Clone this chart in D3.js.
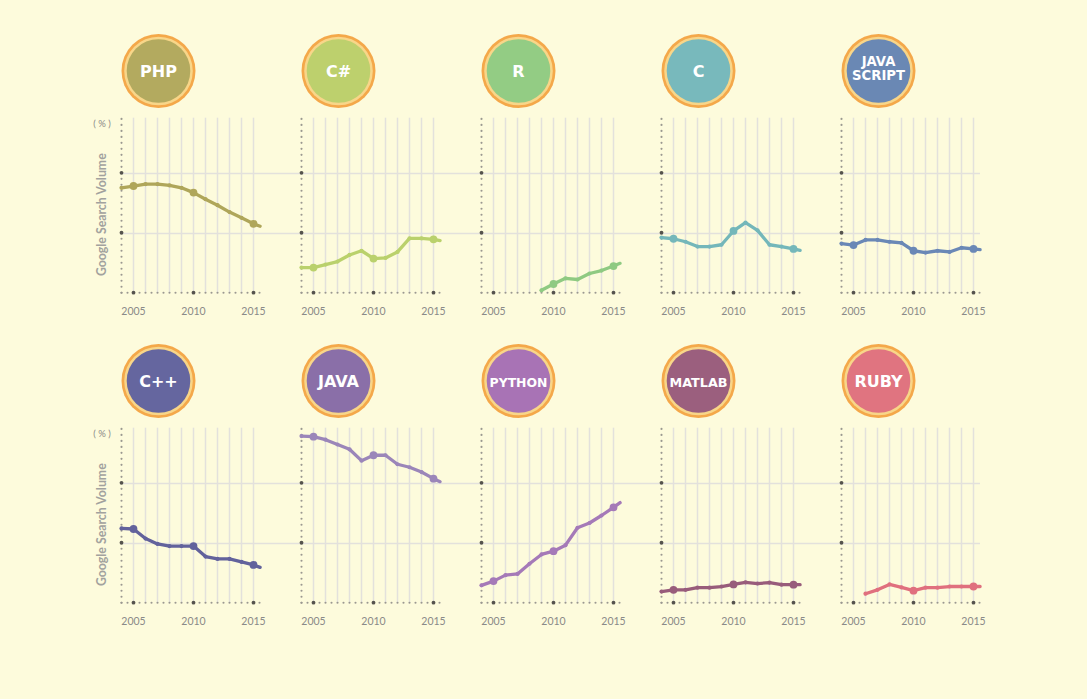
<!DOCTYPE html>
<html>
<head>
<meta charset="utf-8">
<script src="https://cdn.jsdelivr.net/npm/d3@7"></script>
<style>
  html, body { margin: 0; padding: 0; background: #fdfbdc; }
  svg { display: block; }
</style>
</head>
<body>
<svg id="chart" width="1087" height="699"></svg>
<script>
const languages = ["PHP", "C#", "R", "C", "JAVA SCRIPT", "C++", "JAVA", "PYTHON", "MATLAB", "RUBY"];
const colors = ["#b3aa5f", "#bdd06d", "#93cc84", "#78b9bc", "#6a88b4", "#65669f", "#8a6fa8", "#a873b5", "#9b5f7e", "#e07480"];
const lineColors = ["#afa65a", "#bad16c", "#8fca82", "#74b7ba", "#6a88b6", "#62629c", "#9b86b9", "#a57ab8", "#985c7b", "#e0707e"];
const years = [2004, 2005, 2006, 2007, 2008, 2009, 2010, 2011, 2012, 2013, 2014, 2015, 2015.55];
const yearTicks = [2005, 2010, 2015];
const valueTicks = [10, 20];

const phpValues    = [17.5, 17.8, 18.1, 18.1, 17.9, 17.5, 16.7, 15.6, 14.6, 13.45, 12.5, 11.5, 11.1];
const csharpValues = [4.2, 4.2, 4.7, 5.2, 6.3, 7.0, 5.7, 5.8, 6.8, 9.05, 9.05, 8.9, 8.7];
const rValues      = [null, null, null, null, null, 0.4, 1.45, 2.4, 2.2, 3.2, 3.7, 4.45, 4.9];
const cValues      = [9.2, 9.0, 8.5, 7.7, 7.7, 8.0, 10.3, 11.7, 10.4, 8.0, 7.7, 7.3, 7.05];
const jsValues     = [8.2, 7.95, 8.8, 8.8, 8.5, 8.3, 7.0, 6.7, 7.0, 6.8, 7.5, 7.3, 7.2];
const cppValues    = [12.4, 12.3, 10.7, 9.8, 9.45, 9.45, 9.45, 7.7, 7.3, 7.3, 6.8, 6.3, 5.9];
const javaValues   = [27.8, 27.7, 27.2, 26.4, 25.6, 23.7, 24.6, 24.6, 23.1, 22.6, 21.8, 20.7, 20.2];
const pythonValues = [2.9, 3.6, 4.6, 4.8, 6.5, 8.05, 8.6, 9.6, 12.5, 13.3, 14.55, 15.9, 16.7];
const matlabValues = [1.85, 2.15, 2.15, 2.5, 2.5, 2.7, 3.05, 3.4, 3.2, 3.35, 3.0, 3.0, 3.0];
const rubyValues   = [null, null, 1.5, 2.15, 3.05, 2.55, 2.0, 2.5, 2.5, 2.7, 2.7, 2.7, 2.7];

const seriesValues = [phpValues, csharpValues, rValues, cValues, jsValues,
                      cppValues, javaValues, pythonValues, matlabValues, rubyValues];

const svg = d3.select("#chart");
const FONT = "Lato, 'Open Sans', sans-serif";
const GRID = "#e3e1dc";

function panelGeom(i) {
  const col = i % 5, row = Math.floor(i / 5);
  const axisX = 121.5 + col * 180;
  const baseY = 292.7 + row * 310;
  const x = d3.scaleLinear().domain([2004, 2015.6]).range([axisX, axisX + 139.2]);
  const y = d3.scaleLinear().domain([0, 29.2]).range([baseY, baseY - 175]);
  return { col, row, axisX, baseY, x, y };
}

// horizontal gridlines across each row
[0, 1].forEach(row => {
  const g = panelGeom(row * 5);
  svg.append("g").selectAll("line").data(valueTicks).join("line")
    .attr("x1", g.axisX).attr("x2", 980)
    .attr("y1", d => Math.round(g.y(d)) + 0.5).attr("y2", d => Math.round(g.y(d)) + 0.5)
    .attr("stroke", GRID).attr("stroke-width", 1.5);
  // axis labels
  svg.append("text").attr("x", 102).attr("y", g.y(29.2) + 9.5)
    .attr("text-anchor", "middle").attr("font-family", FONT).attr("font-size", 9.5)
    .attr("fill", "#8a8a88").text("( % )");
  svg.append("text")
    .attr("transform", `translate(105.8, ${g.baseY - 78}) rotate(-90)`)
    .attr("text-anchor", "middle").attr("font-family", FONT).attr("font-weight", 700)
    .attr("font-size", 12.3).attr("fill", "#a2a29e").text("Google Search Volume");
});

seriesValues.forEach((vals, i) => {
  const g = panelGeom(i);
  const p = svg.append("g");

  // vertical year gridlines
  p.append("g").selectAll("line").data(d3.range(2005, 2016)).join("line")
    .attr("x1", d => g.x(d)).attr("x2", d => g.x(d))
    .attr("y1", g.y(29.2)).attr("y2", g.baseY)
    .attr("stroke", GRID).attr("stroke-width", 1.5);

  // dotted y axis
  p.append("g").selectAll("circle").data(d3.range(0, 30)).join("circle")
    .attr("cx", g.axisX).attr("cy", d => g.y(d)).attr("r", 1.05)
    .attr("fill", "#9a9890");
  // dotted baseline
  p.append("g").selectAll("circle").data(d3.range(2004, 2015.75, 0.5)).join("circle")
    .attr("cx", d => g.x(d)).attr("cy", g.baseY).attr("r", 1.05)
    .attr("fill", "#9a9890");
  // dark tick dots
  p.append("g").selectAll("circle").data(valueTicks).join("circle")
    .attr("cx", g.axisX).attr("cy", d => g.y(d)).attr("r", 1.9).attr("fill", "#55534d");
  p.append("g").selectAll("circle").data(yearTicks).join("circle")
    .attr("cx", d => g.x(d)).attr("cy", g.baseY).attr("r", 1.9).attr("fill", "#55534d");

  // year labels
  p.append("g").selectAll("text").data(yearTicks).join("text")
    .attr("x", d => g.x(d)).attr("y", g.baseY + 22)
    .attr("text-anchor", "middle").attr("font-family", FONT).attr("font-size", 10.5)
    .attr("fill", "#8a8a88").text(d => d);

  // line
  const pts = years.map((yr, k) => ({ yr, v: vals[k] })).filter(d => d.v != null);
  const line = d3.line().x(d => g.x(d.yr)).y(d => g.y(d.v));
  p.append("path").datum(pts).attr("d", line)
    .attr("fill", "none").attr("stroke", lineColors[i]).attr("stroke-width", 3.3)
    .attr("stroke-linejoin", "round").attr("stroke-linecap", "round");
  p.append("g").selectAll("circle").data(pts.filter(d => Number.isInteger(d.yr))).join("circle")
    .attr("cx", d => g.x(d.yr)).attr("cy", d => g.y(d.v))
    .attr("r", d => yearTicks.includes(d.yr) ? 3.9 : 2.1)
    .attr("fill", lineColors[i]);

  // badge
  const cx = 158.5 + g.col * 180, cy = 71 + g.row * 310;
  const b = svg.append("g").attr("transform", `translate(${cx},${cy})`);
  b.append("circle").attr("r", 37).attr("fill", "#f4a84a");
  b.append("circle").attr("r", 34.3).attr("fill", "#f8d689");
  b.append("circle").attr("r", 31.8).attr("fill", colors[i]);
  const lines = languages[i].split(" ");
  const fs = lines.length > 1 ? 13.2 : 16;
  const t = b.append("text").attr("text-anchor", "middle")
    .attr("font-family", "'DejaVu Sans', sans-serif").attr("font-weight", 700)
    .attr("font-size", fs).attr("fill", "#ffffff");
  lines.forEach((ln, k) => {
    t.append("tspan").attr("x", 0)
      .attr("y", (k - (lines.length - 1) / 2) * 14 - (lines.length > 1 ? 3 : 0) + fs * 0.36)
      .text(ln);
  });
  const w = t.node().getBBox().width;
  if (w > 58) t.attr("font-size", fs * 58 / w);
});
</script>
</body>
</html>
